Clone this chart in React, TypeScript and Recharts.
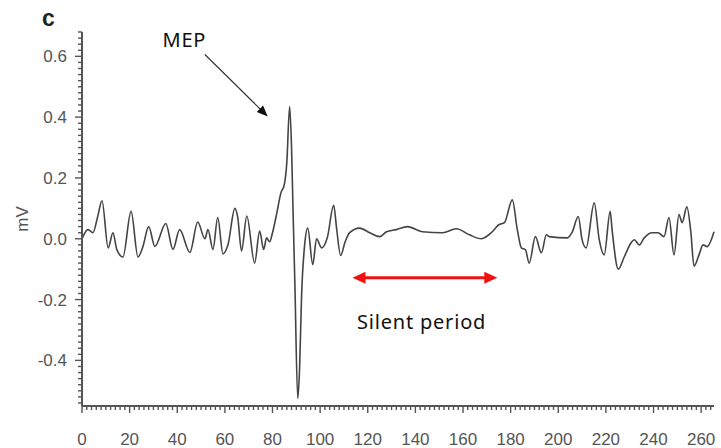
import React from 'react';
import { LineChart, Line, XAxis, YAxis, ReferenceLine, ReferenceDot } from 'recharts';

// time (ms) and amplitude (mV)
const timeMs = [
  0, 2.5, 4.6, 6.5, 8.4, 11, 13, 14.6, 17.2, 20.6, 23.5, 25.6, 28, 30.6, 35.2, 38.2, 41, 45.3, 48.6,
  51.6, 52.9, 55, 57, 59.2, 61.3, 64.2, 65.4, 67, 69.2, 72.5, 74.6, 76.3, 77.5, 78.8, 80, 81.7, 83.5,
  85, 86, 87.2, 88, 88.6, 89.4, 90.6, 91.4, 92.2, 93.5, 94.8, 96.9, 98.5, 100.6, 103, 105.7, 106.9,
  108.6, 110.5, 112.4, 116.6, 120.8, 125, 127.9, 132, 136.7, 143, 151.4, 157.2, 162.7, 167.7, 172.3,
  175, 177.4, 180.7, 182.8, 184.5, 186.2, 187.8, 190.4, 192.9, 195, 196.2, 203.8, 205.9, 208.4, 210,
  211.7, 215.1, 217.2, 219.3, 221.8, 222.6, 225.2, 227.7, 230.6, 231.9, 234, 236.1, 239.4, 241.9,
  244.4, 246.5, 248.6, 250.7, 252, 254, 255.7, 257, 259.1, 260.8, 262.5, 265.4,
];
const amplitude = [
  0, 0.03, 0.02, 0.07, 0.125, -0.03, 0.02, -0.035, -0.06, 0.09, -0.06, -0.025, 0.04, -0.025, 0.05,
  -0.035, 0.03, -0.045, 0.055, 0, 0.03, -0.035, 0.07, -0.05, -0.02, 0.1, 0.07, -0.04, 0.075, -0.08,
  0.025, -0.035, 0.003, -0.01, 0.02, 0.08, 0.15, 0.18, 0.25, 0.435, 0.3, 0.1, -0.15, -0.525, -0.42,
  -0.19, -0.02, 0.035, -0.085, 0, -0.03, 0.003, 0.11, 0.035, -0.055, -0.01, 0.02, 0.035, 0.02, 0.007,
  0.023, 0.03, 0.04, 0.023, 0.02, 0.033, 0.013, 0, 0.023, 0.046, 0.053, 0.128, 0.03, -0.03, -0.036,
  -0.08, 0.007, -0.046, 0.013, 0.007, 0.003, 0.023, 0.073, -0.003, -0.03, 0.118, -0.003, -0.053,
  0.09, 0.03, -0.1, -0.06, -0.013, -0.003, -0.02, 0.003, 0.02, 0.02, 0.007, 0.07, -0.053, 0.08,
  0.053, 0.105, 0.02, -0.09, -0.053, -0.02, -0.026, 0.023,
];

const majorXTicks = [0, 20, 40, 60, 80, 100, 120, 140, 160, 180, 200, 220, 240, 260];
const majorYTicks = ['-0.4', '-0.2', '0.0', '0.2', '0.4', '0.6'];

// annotation anchors in data units
const mepLabel = { x: 43, y: 0.655 };
const mepArrow = [{ x: 51.6, y: 0.606 }, { x: 78, y: 0.402 }];
const silentArrow = [{ x: 113.6, y: -0.128 }, { x: 174.4, y: -0.128 }];
const silentLabel = { x: 142.6, y: -0.273 };

const data = timeMs.map((t, i) => ({ t, v: amplitude[i] }));

// minor ticks every 2 ms / 0.02 mV
const xTicks = Array.from({ length: 133 }, (_, i) => i * 2);
const yTicks = Array.from({ length: 62 }, (_, i) => (i - 27) / 50);

const AXIS = '#555';
const TICK_FONT = '"Liberation Sans", Arial, sans-serif';
const NOTE_FONT = '"Noto Sans", "Open Sans", sans-serif';

const XTick = ({ x, y, payload }: any) => {
  const major = majorXTicks.includes(payload.value);
  return (
    <g>
      <rect x={x - 0.7} y={y} width={1.4} height={major ? 7 : 4} fill={AXIS} />
      {major && (
        <text x={x} y={y + 39} textAnchor="middle" fontSize={17} fontFamily={TICK_FONT} fill="#555">
          {payload.value}
        </text>
      )}
    </g>
  );
};

const YTick = ({ x, y, payload }: any) => {
  const i = Math.round(payload.value * 50);
  const major = i % 10 === 0;
  const len = major ? 7 : 4;
  return (
    <g>
      <rect x={x - len} y={y - 0.7} width={len} height={1.4} fill={AXIS} />
      {major && (
        <text x={x - 15} y={y + 6} textAnchor="end" fontSize={17} fontFamily={TICK_FONT} fill="#555">
          {majorYTicks[i / 10 + 2]}
        </text>
      )}
    </g>
  );
};

const arrowHead = (x: number, y: number, dx: number, dy: number, size: number, w: number) => {
  const len = Math.hypot(dx, dy);
  const ux = dx / len;
  const uy = dy / len;
  const bx = x - ux * size;
  const by = y - uy * size;
  return `${x},${y} ${bx - uy * w},${by + ux * w} ${bx + uy * w},${by - ux * w}`;
};

const MepArrowShape = ({ x1, y1, x2, y2 }: any) => (
  <g>
    <line x1={x1} y1={y1} x2={x2 - (x2 - x1) * 0.1} y2={y2 - (y2 - y1) * 0.1} stroke="#333" strokeWidth={1.2} />
    <polygon points={arrowHead(x2, y2, x2 - x1, y2 - y1, 11, 4.5)} fill="#111" />
  </g>
);

const SilentArrowShape = ({ x1, y1, x2, y2 }: any) => (
  <g>
    <line x1={x1 + 10} y1={y1} x2={x2 - 10} y2={y2} stroke="#f01010" strokeWidth={3} />
    <polygon points={arrowHead(x2, y2, x2 - x1, 0, 13, 6)} fill="#f01010" />
    <polygon points={arrowHead(x1, y1, x1 - x2, 0, 13, 6)} fill="#f01010" />
  </g>
);

const NoteText = (text: string) => ({ cx, cy }: any) => (
  <text
    x={cx}
    y={cy + 7}
    textAnchor="middle"
    fontSize={20}
    letterSpacing={0.8}
    fontFamily={NOTE_FONT}
    fill="#111"
  >
    {text}
  </text>
);

export default function App() {
  return (
    <div style={{ position: 'absolute', left: 0, top: 0, width: 721, height: 448, background: '#fff' }}>
      <span
        style={{
          position: 'absolute', left: 42, top: 7, fontFamily: TICK_FONT, fontWeight: 'bold',
          fontSize: 23, lineHeight: '23px', color: '#222',
        }}
      >
        c
      </span>
      <LineChart width={721} height={448} data={data} margin={{ top: 32, right: 7, bottom: 0, left: 0 }}>
        <XAxis
          type="number"
          dataKey="t"
          domain={[0, 265]}
          ticks={xTicks}
          interval={0}
          tick={<XTick />}
          tickLine={false}
          tickSize={0}
          tickMargin={0}
          height={42}
          axisLine={{ stroke: AXIS, strokeWidth: 2 }}
        />
        <YAxis
          type="number"
          domain={[-0.55, 0.68]}
          ticks={yTicks}
          interval={0}
          tick={<YTick />}
          tickLine={false}
          tickSize={0}
          tickMargin={0}
          width={82}
          axisLine={{ stroke: AXIS, strokeWidth: 2 }}
          label={{
            value: 'mV', angle: -90, position: 'insideLeft', offset: 22,
            style: { fontSize: 17, fontFamily: TICK_FONT, fill: '#555', textAnchor: 'middle' },
          }}
        />
        <Line
          type="monotone"
          dataKey="v"
          stroke="#444"
          strokeWidth={1.6}
          dot={false}
          isAnimationActive={false}
        />
        <ReferenceLine segment={mepArrow} shape={<MepArrowShape />} ifOverflow="visible" />
        <ReferenceLine segment={silentArrow} shape={<SilentArrowShape />} ifOverflow="visible" />
        <ReferenceDot x={mepLabel.x} y={mepLabel.y} r={0} shape={NoteText('MEP')} ifOverflow="visible" />
        <ReferenceDot x={silentLabel.x} y={silentLabel.y} r={0} shape={NoteText('Silent period')} ifOverflow="visible" />
      </LineChart>
    </div>
  );
}
